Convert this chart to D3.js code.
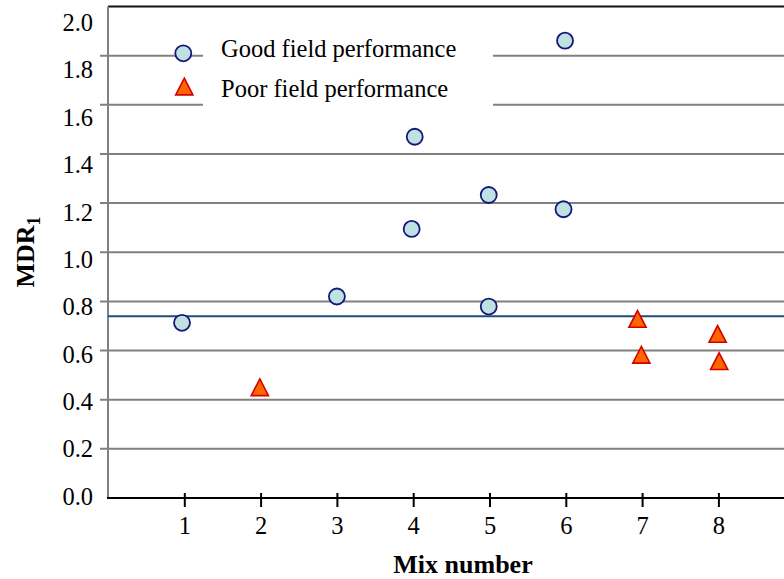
<!DOCTYPE html>
<html>
<head>
<meta charset="utf-8">
<script src="https://cdn.jsdelivr.net/npm/d3@7"></script>
<style>
  html, body { margin: 0; padding: 0; background: #fff; }
  svg { display: block; }
  svg text { font-family: "Liberation Serif", "Times New Roman", Times, serif; fill: #000; }
</style>
</head>
<body>
<svg id="chart" width="784" height="579"></svg>
<script>
// MDR1 by mix number, grouped by field performance
const goodMix = [0.97, 3, 4.02, 3.98, 4.99, 4.99, 5.97, 5.99];
const goodMDR = [0.713, 0.82, 1.47, 1.095, 1.233, 0.779, 1.175, 1.861];
const poorMix = [1.99, 6.94, 6.99, 7.99, 8.01];
const poorMDR = [0.45, 0.728, 0.582, 0.667, 0.556];
const thresholdMDR = 0.74;

const yTicks = [0, 0.2, 0.4, 0.6, 0.8, 1.0, 1.2, 1.4, 1.6, 1.8, 2.0];
const xTicks = [1, 2, 3, 4, 5, 6, 7, 8];
const seriesNames = ["Good field performance", "Poor field performance"];

const serif = "'Liberation Serif', 'Times New Roman', Times, serif";
const svg = d3.select("#chart");
const W = 784;

const x = d3.scaleLinear().domain([0, 9]).range([108, 794.7]);
const y = d3.scaleLinear().domain([0, 2]).range([498, 6.5]);
// tick labels sit on a slightly tighter ladder than the gridlines
const yLabel = d3.scaleLinear().domain([0, 2]).range([496.3, 22.8]);

// horizontal gridlines (extending left of the axis as tick marks)
svg.append("g").selectAll("line")
  .data(yTicks.filter(d => d > 0 && d < 2))
  .join("line")
  .attr("x1", 100).attr("x2", W)
  .attr("y1", d => y(d)).attr("y2", d => y(d))
  .attr("stroke", "#808080").attr("stroke-width", 2);

// top frame line
svg.append("line")
  .attr("x1", x(0)).attr("x2", W)
  .attr("y1", y(2)).attr("y2", y(2))
  .attr("stroke", "#111").attr("stroke-width", 2);

// legend background hides gridlines behind the text
svg.append("rect")
  .attr("x", 203).attr("y", 28).attr("width", 290).attr("height", 84)
  .attr("fill", "#fff");

// y axis line
svg.append("line")
  .attr("x1", x(0)).attr("x2", x(0))
  .attr("y1", y(2)).attr("y2", y(0))
  .attr("stroke", "#808080").attr("stroke-width", 2);

// y tick labels
svg.append("g").selectAll("text")
  .data(yTicks)
  .join("text")
  .attr("x", 93)
  .attr("y", d => yLabel(d))
  .attr("dy", "0.34em")
  .attr("text-anchor", "end")
  .attr("font-family", serif)
  .attr("font-size", 24.5)
  .text(d => d3.format(".1f")(d));

// x axis
const xAxis = d3.axisBottom(x)
  .tickValues(xTicks)
  .tickFormat(d3.format("d"))
  .tickSizeInner(9)
  .tickSizeOuter(0);
const gx = svg.append("g")
  .attr("transform", `translate(0,${y(0)})`)
  .call(xAxis)
  .attr("font-family", serif);
gx.select(".domain").remove();
gx.selectAll(".tick line")
  .attr("stroke", "#000").attr("stroke-width", 2)
  .attr("y1", -5);
gx.selectAll(".tick text")
  .attr("font-family", serif)
  .attr("font-size", 24.5).attr("fill", "#000")
  .attr("y", 19);
svg.append("line")
  .attr("x1", x(0) - 1).attr("x2", W)
  .attr("y1", y(0)).attr("y2", y(0))
  .attr("stroke", "#000").attr("stroke-width", 2.2);

// threshold line
svg.append("line")
  .attr("x1", x(0)).attr("x2", W)
  .attr("y1", y(thresholdMDR)).attr("y2", y(thresholdMDR))
  .attr("stroke", "#1f4e79").attr("stroke-width", 2);

// marker shapes
const circleFill = "#bfe1e1", circleStroke = "#14187a";
const triFill = "#ff6600", triStroke = "#d40000";
const triPath = (cx, cy) =>
  `M${cx},${cy - 8.5}L${cx + 8.6},${cy + 8.2}L${cx - 8.6},${cy + 8.2}Z`;

const good = goodMix.map((m, i) => ({ m, v: goodMDR[i] }));
const poor = poorMix.map((m, i) => ({ m, v: poorMDR[i] }));

svg.append("g").selectAll("circle")
  .data(good)
  .join("circle")
  .attr("cx", d => x(d.m)).attr("cy", d => y(d.v))
  .attr("r", 8)
  .attr("fill", circleFill).attr("stroke", circleStroke).attr("stroke-width", 1.8);

svg.append("g").selectAll("path")
  .data(poor)
  .join("path")
  .attr("d", d => triPath(x(d.m), y(d.v)))
  .attr("fill", triFill).attr("stroke", triStroke).attr("stroke-width", 1.6)
  .attr("stroke-linejoin", "miter");

// legend
const legend = svg.append("g");
legend.append("circle")
  .attr("cx", 183.3).attr("cy", 53.3).attr("r", 8)
  .attr("fill", circleFill).attr("stroke", circleStroke).attr("stroke-width", 1.8);
legend.append("path")
  .attr("d", triPath(184.3, 86.7))
  .attr("fill", triFill).attr("stroke", triStroke).attr("stroke-width", 1.6);
legend.selectAll("text")
  .data(seriesNames)
  .join("text")
  .attr("x", 221)
  .attr("y", (d, i) => 56.5 + i * 40)
  .attr("font-family", serif)
  .attr("font-size", 24.5)
  .text(d => d);

// axis titles
svg.append("text")
  .attr("x", 463).attr("y", 573)
  .attr("text-anchor", "middle")
  .attr("font-family", serif)
  .attr("font-size", 26).attr("font-weight", "bold")
  .text("Mix number");

const yt = svg.append("text")
  .attr("transform", "translate(34,252) rotate(-90)")
  .attr("text-anchor", "middle")
  .attr("font-family", serif)
  .attr("font-size", 26).attr("font-weight", "bold");
yt.append("tspan").text("MDR");
yt.append("tspan").attr("font-size", 18).attr("dy", 6).text("1");
</script>
</body>
</html>
